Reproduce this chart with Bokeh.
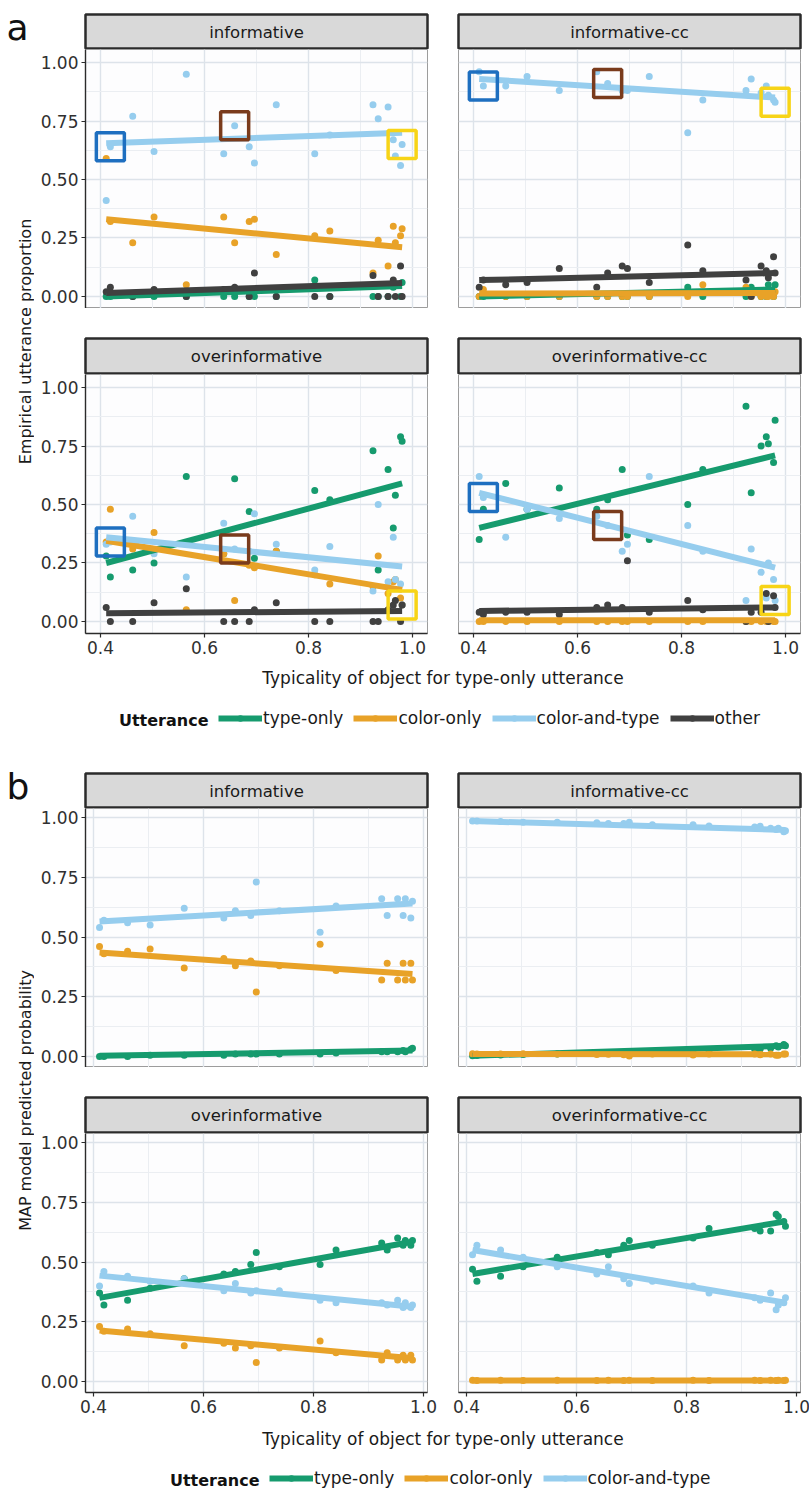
import math
from bokeh.plotting import figure
from bokeh.layouts import row, column
from bokeh.models import (Range1d, FixedTicker, NumeralTickFormatter, Label,
                          Legend, LegendItem, ColumnDataSource)
from bokeh.embed import file_html
from bokeh.resources import INLINE

FONT = "DejaVu Sans"

# ---------------- data ----------------
typicality = [0.411, 0.419, 0.462, 0.503, 0.565, 0.637, 0.658, 0.686, 0.696, 0.738,
              0.812, 0.841, 0.924, 0.934, 0.953, 0.963, 0.967, 0.977, 0.980]

utterances = ["type-only", "color-only", "color-and-type", "other"]
utt_colors = ["#169b6e", "#e8a228", "#96cdee", "#404040"]
conditions = ["informative", "informative-cc", "overinformative", "overinformative-cc"]
box_colors = ["#1e6fc0", "#7a3b1c", "#f7d417"]
box_index = [1, 6, 18]

x_ticks = [0.4, 0.6, 0.8, 1.0]
x_minor = [0.5, 0.7, 0.9]
y_ticks = [0.0, 0.25, 0.5, 0.75, 1.0]
y_minor = [0.125, 0.375, 0.625, 0.875]

# (a) empirical utterance proportions
emp_inf_type = [0, 0, 0, 0, 0, 0, 0, 0, 0, 0, 0.07, 0, 0, 0, 0, 0.04, 0.05, 0, 0.06]
emp_inf_color = [0.59, 0.32, 0.23, 0.34, 0.05, 0.34, 0.23, 0.32, 0.33, 0.18, 0.26, 0.28, 0.10, 0.24, 0.13, 0.30, 0.23, 0.26, 0.29]
emp_inf_ct = [0.41, 0.64, 0.77, 0.62, 0.95, 0.61, 0.73, 0.64, 0.57, 0.82, 0.61, 0.69, 0.82, 0.76, 0.81, 0.67, 0.60, 0.56, 0.65]
emp_inf_other = [0.02, 0.04, 0.0, 0.03, 0.0, 0.03, 0.04, 0.0, 0.10, 0.0, 0.0, 0.0, 0.09, 0.0, 0.0, 0.07, 0.0, 0.13, 0.0]
emp_inf_fit = [[0.0, 0.045], [0.33, 0.21], [0.655, 0.70], [0.015, 0.058]]

emp_infcc_type = [0, 0, 0, 0, 0, 0, 0, 0, 0, 0, 0.04, 0, 0, 0.04, 0, 0, 0.05, 0, 0.05]
emp_infcc_color = [0, 0.03, 0, 0, 0, 0, 0, 0, 0, 0, 0, 0.05, 0.04, 0, 0, 0, 0, 0, 0.02]
emp_infcc_ct = [0.96, 0.90, 0.90, 0.94, 0.88, 0.96, 0.91, 0.88, 0.88, 0.94, 0.70, 0.84, 0.88, 0.93, 0.87, 0.90, 0.86, 0.84, 0.83]
emp_infcc_other = [0.04, 0.07, 0.05, 0.06, 0.12, 0.04, 0.10, 0.13, 0.12, 0.06, 0.22, 0.11, 0.07, 0.0, 0.13, 0.11, 0.08, 0.17, 0.10]
emp_infcc_fit = [[0.0, 0.03], [0.013, 0.015], [0.93, 0.85], [0.07, 0.10]]

emp_over_type = [0.28, 0.19, 0.22, 0.25, 0.62, 0.29, 0.61, 0.47, 0.27, 0.30, 0.56, 0.52, 0.73, 0.22, 0.65, 0.40, 0.54, 0.79, 0.77]
emp_over_color = [0.34, 0.48, 0.31, 0.38, 0.05, 0.29, 0.09, 0.24, 0.23, 0.30, 0.20, 0.16, 0.15, 0.28, 0.12, 0.17, 0.18, 0.10, 0.07]
emp_over_ct = [0.33, 0.34, 0.45, 0.29, 0.19, 0.42, 0.31, 0.30, 0.46, 0.33, 0.22, 0.32, 0.13, 0.50, 0.17, 0.36, 0.18, 0.16, 0.07]
emp_over_other = [0.06, 0.0, 0.0, 0.08, 0.14, 0.0, 0.0, 0.0, 0.05, 0.08, 0.0, 0.0, 0.0, 0.0, 0.05, 0.07, 0.09, 0.0, 0.07]
emp_over_fit = [[0.25, 0.59], [0.345, 0.135], [0.36, 0.235], [0.035, 0.045]]

emp_overcc_type = [0.35, 0.48, 0.59, 0.48, 0.57, 0.48, 0.52, 0.65, 0.37, 0.35, 0.50, 0.65, 0.92, 0.55, 0.75, 0.79, 0.76, 0.68, 0.86]
emp_overcc_color = [0, 0, 0, 0, 0, 0, 0, 0, 0, 0, 0, 0, 0, 0, 0, 0, 0, 0, 0]
emp_overcc_ct = [0.62, 0.53, 0.36, 0.48, 0.44, 0.45, 0.41, 0.30, 0.33, 0.62, 0.41, 0.30, 0.09, 0.31, 0.21, 0.10, 0.25, 0.18, 0.09]
emp_overcc_other = [0.04, 0.03, 0.04, 0.04, 0.03, 0.06, 0.07, 0.06, 0.26, 0.04, 0.09, 0.05, 0.0, 0.04, 0.04, 0.12, 0.0, 0.11, 0.06]
emp_overcc_fit = [[0.40, 0.71], [0.005, 0.005], [0.55, 0.23], [0.045, 0.06]]

# (b) MAP model predicted probabilities
map_inf_type = [0.0, 0.0, 0.0, 0.005, 0.005, 0.005, 0.01, 0.01, 0.01, 0.01, 0.01, 0.015, 0.02, 0.02, 0.02, 0.025, 0.02, 0.03, 0.035]
map_inf_color = [0.46, 0.43, 0.44, 0.45, 0.37, 0.41, 0.38, 0.40, 0.27, 0.38, 0.47, 0.36, 0.32, 0.39, 0.32, 0.39, 0.32, 0.39, 0.32]
map_inf_ct = [0.54, 0.57, 0.56, 0.55, 0.62, 0.58, 0.61, 0.59, 0.73, 0.61, 0.52, 0.63, 0.66, 0.59, 0.66, 0.59, 0.66, 0.58, 0.65]
map_inf_fit = [[0.003, 0.025], [0.435, 0.345], [0.565, 0.64]]

map_infcc_type = [0.003, 0.004, 0.006, 0.008, 0.01, 0.014, 0.016, 0.018, 0.018, 0.02, 0.024, 0.025, 0.03, 0.03, 0.035, 0.045, 0.04, 0.05, 0.045]
map_infcc_color = [0.012, 0.011, 0.011, 0.012, 0.01, 0.008, 0.009, 0.007, 0.002, 0.01, 0.006, 0.01, 0.01, 0.007, 0.01, 0.005, 0.005, 0.01, 0.01]
map_infcc_ct = [0.985, 0.985, 0.983, 0.98, 0.98, 0.978, 0.975, 0.975, 0.98, 0.97, 0.97, 0.965, 0.96, 0.963, 0.955, 0.95, 0.955, 0.94, 0.945]
map_infcc_fit = [[0.003, 0.045], [0.011, 0.009], [0.985, 0.948]]

map_over_type = [0.37, 0.32, 0.34, 0.39, 0.43, 0.45, 0.46, 0.49, 0.54, 0.48, 0.49, 0.55, 0.58, 0.55, 0.60, 0.57, 0.59, 0.57, 0.59]
map_over_color = [0.23, 0.21, 0.22, 0.20, 0.15, 0.16, 0.14, 0.15, 0.08, 0.14, 0.17, 0.12, 0.09, 0.12, 0.09, 0.11, 0.09, 0.11, 0.09]
map_over_ct = [0.40, 0.46, 0.44, 0.42, 0.43, 0.38, 0.41, 0.37, 0.38, 0.38, 0.34, 0.33, 0.33, 0.32, 0.34, 0.31, 0.33, 0.31, 0.32]
map_over_fit = [[0.35, 0.585], [0.213, 0.097], [0.443, 0.313]]

map_overcc_type = [0.47, 0.42, 0.44, 0.48, 0.52, 0.54, 0.53, 0.57, 0.59, 0.57, 0.60, 0.64, 0.64, 0.63, 0.63, 0.70, 0.69, 0.67, 0.65]
map_overcc_color = [0.005, 0.004, 0.005, 0.004, 0.005, 0.004, 0.005, 0.004, 0.005, 0.004, 0.005, 0.004, 0.005, 0.004, 0.005, 0.004, 0.005, 0.004, 0.005]
map_overcc_ct = [0.53, 0.57, 0.55, 0.52, 0.48, 0.45, 0.48, 0.43, 0.41, 0.42, 0.40, 0.37, 0.35, 0.34, 0.37, 0.30, 0.32, 0.33, 0.35]
map_overcc_fit = [[0.45, 0.67], [0.004, 0.004], [0.55, 0.33]]

# ---------------- layout constants ----------------
FW, FH = 342, 259
GUT = 34
L_LEFT, L_RIGHT = 51, 15
R_LEFT, R_RIGHT = 16, 10
XR_A = (0.3712, 1.0288)
XR_B = (0.3855, 1.0073)
YR_A = (-0.0513, 1.0556)
YR_B = (-0.046, 1.0377)


def style_common(p):
    p.border_fill_color = "white"


def make_strip(text, left, top, h):
    s = figure(frame_width=FW, frame_height=h, x_range=Range1d(0, 1), y_range=Range1d(0, 1),
               x_axis_location=None, y_axis_location=None, toolbar_location=None,
               output_backend="svg", tools="",
               min_border_left=L_LEFT if left else R_LEFT,
               min_border_right=L_RIGHT if left else R_RIGHT,
               min_border_top=top, min_border_bottom=0)
    style_common(s)
    s.xgrid.visible = False
    s.ygrid.visible = False
    s.background_fill_color = "#d9d9d9"
    s.outline_line_color = "#2b2b2b"
    s.outline_line_width = 2.5
    s.add_layout(Label(x=0.5, y=0.5, text=text, text_align="center", text_baseline="middle",
                       text_font=FONT, text_font_size="16.5px", text_color="#1a1a1a"))
    return s


def make_panel(series, fits, xr, yr, left, bottom, boxes=False):
    p = figure(frame_width=FW, frame_height=FH, x_range=Range1d(*xr), y_range=Range1d(*yr),
               x_axis_location="below" if bottom else None,
               y_axis_location="left" if left else None,
               toolbar_location=None, output_backend="svg", tools="",
               min_border_left=L_LEFT if left else R_LEFT,
               min_border_right=L_RIGHT if left else R_RIGHT,
               min_border_top=0, min_border_bottom=30 if bottom else 0)
    style_common(p)
    p.background_fill_color = "#fdfdfe"
    p.outline_line_color = "#9c9c9c"
    p.outline_line_width = 1
    p.xgrid.ticker = FixedTicker(ticks=x_ticks, minor_ticks=x_minor)
    p.ygrid.ticker = FixedTicker(ticks=y_ticks, minor_ticks=y_minor)
    for g in (p.xgrid, p.ygrid):
        g.grid_line_color = "#dde3ea"
        g.grid_line_width = 1.4
        g.minor_grid_line_color = "#ebeef2"
        g.minor_grid_line_width = 1
    axes = []
    if left:
        p.yaxis.ticker = FixedTicker(ticks=y_ticks)
        p.yaxis.formatter = NumeralTickFormatter(format="0.00")
        axes.append(p.yaxis)
    if bottom:
        p.xaxis.ticker = FixedTicker(ticks=x_ticks)
        p.xaxis.formatter = NumeralTickFormatter(format="0.0")
        axes.append(p.xaxis)
    for ax in axes:
        ax.axis_line_color = "#2b2b2b"
        ax.axis_line_width = 1.4
        ax.major_tick_line_color = "#2b2b2b"
        ax.major_tick_line_width = 1.2
        ax.major_tick_out = 4
        ax.major_tick_in = 0
        ax.minor_tick_line_color = None
        ax.major_label_standoff = 3
        ax.major_label_text_font = FONT
        ax.major_label_text_font_size = "17px"
        ax.major_label_text_color = "#303030"

    n = len(series)
    for i in range(n):
        p.scatter(typicality, series[i], size=7, color=utt_colors[i], line_width=0)
    xs_fit = [typicality[0], typicality[-1]]
    for i in range(n):
        p.line(xs_fit, fits[i], line_width=6, color=utt_colors[i])
    if boxes:
        ct = series[2]
        p.scatter([typicality[k] for k in box_index], [ct[k] for k in box_index],
                  marker="square", size=28, fill_color=None,
                  line_color=box_colors, line_width=3.5)
    return p


def make_gutter(h, letter, letter_y, title, title_y):
    g = figure(width=GUT, height=h, x_range=Range1d(0, GUT), y_range=Range1d(0, h),
               x_axis_location=None, y_axis_location=None, toolbar_location=None,
               output_backend="svg", tools="", min_border=0)
    style_common(g)
    g.xgrid.visible = False
    g.ygrid.visible = False
    g.outline_line_color = None
    g.background_fill_color = "white"
    g.add_layout(Label(x=6, y=letter_y, text=letter, text_font=FONT, text_font_size="36px",
                       text_baseline="alphabetic", text_color="#111111"))
    g.add_layout(Label(x=25, y=title_y, text=title, angle=math.pi / 2, text_align="center",
                       text_baseline="middle", text_font=FONT, text_font_size="16px",
                       text_color="#1a1a1a"))
    return g


def make_bottom(h, title_y, legend_x, legend_y, n_items):
    W = 2 * FW + L_LEFT + L_RIGHT + R_LEFT + R_RIGHT
    b = figure(width=W, height=h, x_range=Range1d(0, W), y_range=Range1d(0, h),
               x_axis_location=None, y_axis_location=None, toolbar_location=None,
               output_backend="svg", tools="", min_border=0)
    style_common(b)
    b.xgrid.visible = False
    b.ygrid.visible = False
    b.outline_line_color = None
    b.background_fill_color = "white"
    center_x = L_LEFT + (2 * FW + L_RIGHT + R_LEFT) / 2
    b.add_layout(Label(x=center_x, y=title_y, text="Typicality of object for type-only utterance",
                       text_align="center", text_baseline="middle", text_font=FONT,
                       text_font_size="17px", text_color="#1a1a1a"))
    items = []
    for i in range(n_items):
        # legend proxies: one point placed far outside the visible range
        src = ColumnDataSource(dict(x=[-1000.0], y=[-1000.0]))
        rl = b.line("x", "y", source=src, line_width=6, color=utt_colors[i])
        rp = b.scatter("x", "y", source=src, size=6, color=utt_colors[i], line_width=0)
        items.append(LegendItem(label=utterances[i], renderers=[rl, rp]))
    leg = Legend(items=items, orientation="horizontal", location=(legend_x, legend_y),
                 glyph_width=44, glyph_height=16, label_height=16, label_standoff=1,
                 spacing=10, padding=0, margin=0, border_line_color=None,
                 background_fill_alpha=0, label_text_font=FONT, label_text_font_size="17px",
                 label_text_color="#1a1a1a", label_text_baseline="middle")
    b.add_layout(leg, "center")
    b.add_layout(Label(x=legend_x - 10, y=legend_y + 8, text="Utterance", text_align="right",
                       text_baseline="middle", text_font=FONT, text_font_size="16px",
                       text_font_style="bold", text_color="#111111"))
    return b


# ---------------- part a ----------------
sA1 = make_strip(conditions[0], True, 14, 35)
sA2 = make_strip(conditions[1], False, 14, 35)
pA1 = make_panel([emp_inf_type, emp_inf_color, emp_inf_ct, emp_inf_other], emp_inf_fit,
                 XR_A, YR_A, True, False, boxes=True)
pA2 = make_panel([emp_infcc_type, emp_infcc_color, emp_infcc_ct, emp_infcc_other], emp_infcc_fit,
                 XR_A, YR_A, False, False, boxes=True)
sA3 = make_strip(conditions[2], True, 30, 36)
sA4 = make_strip(conditions[3], False, 30, 36)
pA3 = make_panel([emp_over_type, emp_over_color, emp_over_ct, emp_over_other], emp_over_fit,
                 XR_A, YR_A, True, True, boxes=True)
pA4 = make_panel([emp_overcc_type, emp_overcc_color, emp_overcc_ct, emp_overcc_other], emp_overcc_fit,
                 XR_A, YR_A, False, True, boxes=True)
bA = make_bottom(77, 63, 184, 12, 4)
gA = make_gutter(740, "a", 713, "Empirical utterance proportion", 399)

colA = column(row(sA1, sA2), row(pA1, pA2), row(sA3, sA4), row(pA3, pA4), bA)
partA = row(gA, colA)

# ---------------- part b ----------------
sB1 = make_strip(conditions[0], True, 33, 35)
sB2 = make_strip(conditions[1], False, 33, 35)
pB1 = make_panel([map_inf_type, map_inf_color, map_inf_ct], map_inf_fit, XR_B, YR_B, True, False)
pB2 = make_panel([map_infcc_type, map_infcc_color, map_infcc_ct], map_infcc_fit, XR_B, YR_B, False, False)
sB3 = make_strip(conditions[2], True, 30, 36)
sB4 = make_strip(conditions[3], False, 30, 36)
pB3 = make_panel([map_over_type, map_over_color, map_over_ct], map_over_fit, XR_B, YR_B, True, True)
pB4 = make_panel([map_overcc_type, map_overcc_color, map_overcc_ct], map_overcc_fit, XR_B, YR_B, False, True)
bB = make_bottom(70, 54, 235, 4, 3)
gB = make_gutter(752, "b", 706, "MAP model predicted probability", 392)

colB = column(row(sB1, sB2), row(pB1, pB2), row(sB3, sB4), row(pB3, pB4), bB)
partB = row(gB, colB)

layout = column(partA, partB)

with open("out.html", "w") as f:
    f.write(file_html(layout, INLINE))
